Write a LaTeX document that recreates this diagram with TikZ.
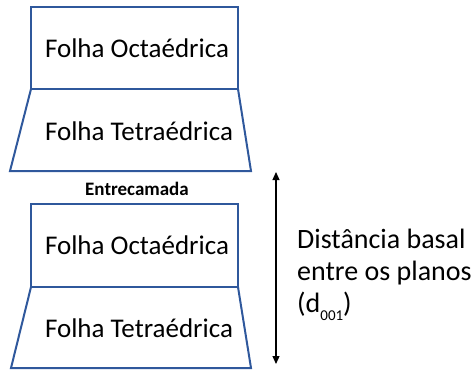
\documentclass[tikz,border=0pt]{standalone}
\usepackage{fontspec}
\setmainfont{Carlito}
\usetikzlibrary{arrows.meta}
\definecolor{folhaazul}{RGB}{47,88,156}
\tikzset{
	folha/.style={draw=folhaazul, line width=2pt, line join=miter},
	rotulo/.style={font=\fontsize{27}{32}\selectfont},
}
\begin{document}
\begin{tikzpicture}[x=1pt, y=-1pt]
		\useasboundingbox (0,0) rectangle (471,370);
		% camada de cima
		\draw[folha] (31,7) rectangle (238,89);
		\draw[folha] (31,89) -- (10,171) -- (251,171) -- (238,89);
		\node[rotulo] (octaA) at (137,48) {Folha Octaédrica};
		\node[rotulo] (tetraA) at (139,131) {Folha Tetraédrica};
		\node[font=\fontsize{19}{22}\selectfont\bfseries] (entre) at (137,189) {Entrecamada};
		% camada de baixo
		\draw[folha] (31,204) rectangle (238,287);
		\draw[folha] (31,287) -- (11,368) -- (251,368) -- (238,287);
		\node[rotulo] (octaB) at (137,245) {Folha Octaédrica};
		\node[rotulo] (tetraB) at (139,328) {Folha Tetraédrica};
		% distancia basal
		\coordinate (topo) at (276,172);
		\coordinate (base) at (276,364);
		\draw[line width=1.2pt, {Triangle[length=8pt,width=7pt]}-{Triangle[length=8pt,width=7pt]}] (topo) -- (base);
		\node[rotulo, font=\fontsize{28}{32}\selectfont, anchor=west, align=left, inner sep=0pt] (dist) at (297,275) {Distância basal\\entre os planos\\(d\raisebox{-8pt}{\fontsize{15}{15}\selectfont 001})};
	\end{tikzpicture}
\end{document}
